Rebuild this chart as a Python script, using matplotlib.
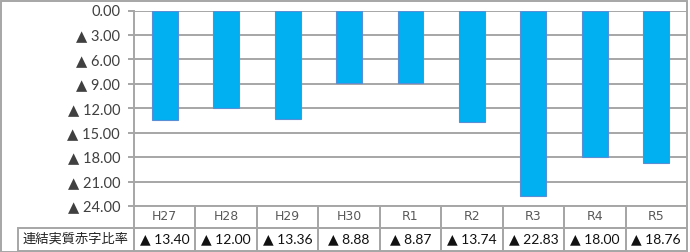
import matplotlib
matplotlib.use("Agg")
import matplotlib.pyplot as plt
from matplotlib.patches import Rectangle
from matplotlib.transforms import blended_transform_factory

categories = ["H27", "H28", "H29", "H30", "R1", "R2", "R3", "R4", "R5"]
values = [13.40, 12.00, 13.36, 8.88, 8.87, 13.74, 22.83, 18.00, 18.76]
yticks = [0, 3, 6, 9, 12, 15, 18, 21, 24]
row_label = "連結実質赤字比率"

W, H = 690, 252
fig = plt.figure(figsize=(W / 100, H / 100), dpi=100)

ax_left, ax_right, ax_top, ax_bottom = 134, 687, 10.5, 206
ax = fig.add_axes([ax_left / W, 1 - ax_bottom / H,
                   (ax_right - ax_left) / W, (ax_bottom - ax_top) / H])

grid_c = "#A6A6A6"
x = list(range(len(categories)))
ax.bar(x, values, width=0.42, color="#00B0F0", edgecolor="#5B8FD5",
       linewidth=0.8, zorder=3)
ax.set_xlim(-0.5, len(categories) - 0.5)
ax.set_ylim(24, 0)
ax.set_yticks(yticks)
ax.set_yticklabels([("▲ " if v else "") + f"{v:.2f}" for v in yticks],
                   fontfamily=["Lato", "DejaVu Sans"], fontsize=10.5,
                   color="#404040")
ax.tick_params(axis="y", length=4, width=1.4, color=grid_c, pad=6)
ax.set_xticks([])
for v in yticks:
    ax.axhline(v, color=grid_c, lw=1.4, zorder=1)
for s in ["top", "right", "bottom"]:
    ax.spines[s].set_visible(False)
ax.spines["left"].set_color(grid_c)
ax.spines["left"].set_linewidth(1.4)

# data table (x in data coords, y in axes coords)
ax_w = ax_right - ax_left
ax_h = ax_bottom - ax_top
row1_bot = -(228 - ax_bottom) / ax_h
row2_bot = -(251 - ax_bottom) / ax_h
trans = blended_transform_factory(ax.transData, ax.transAxes)
for i, c in enumerate(categories):
    ax.add_patch(Rectangle((i - 0.5, row1_bot), 1, -row1_bot, transform=trans,
                           fill=False, edgecolor=grid_c, lw=1.4, clip_on=False))
    ax.add_patch(Rectangle((i - 0.5, row2_bot), 1, row1_bot - row2_bot,
                           transform=trans, fill=False, edgecolor=grid_c,
                           lw=1.4, clip_on=False))
    ax.text(i, row1_bot / 2, c, transform=trans, ha="center", va="center",
            fontsize=9, color="#595959", family=["DejaVu Sans"])
    ax.text(i, (row1_bot + row2_bot) / 2, f"▲ {values[i]:.2f}", transform=trans,
            ha="center", va="center", fontsize=10, color="#111111",
            family=["Lato", "DejaVu Sans"])
lab_left = -(ax_left - 18) / ax_w
ax.add_patch(Rectangle((lab_left, row2_bot), -lab_left, row1_bot - row2_bot,
                       transform=ax.transAxes, fill=False, edgecolor=grid_c,
                       lw=1.4, clip_on=False))
ax.text(lab_left / 2, (row1_bot + row2_bot) / 2, row_label,
        transform=ax.transAxes, ha="center", va="center", fontsize=9.5,
        color="#222222", family=["Noto Sans CJK JP", "DejaVu Sans"])

# outer border
fig.patches.append(Rectangle((1 / W, 1 - 251.5 / H), 686 / W, 251 / H,
                             transform=fig.transFigure, fill=False,
                             edgecolor=grid_c, lw=1.4))

fig.savefig("out.png", dpi=100)
